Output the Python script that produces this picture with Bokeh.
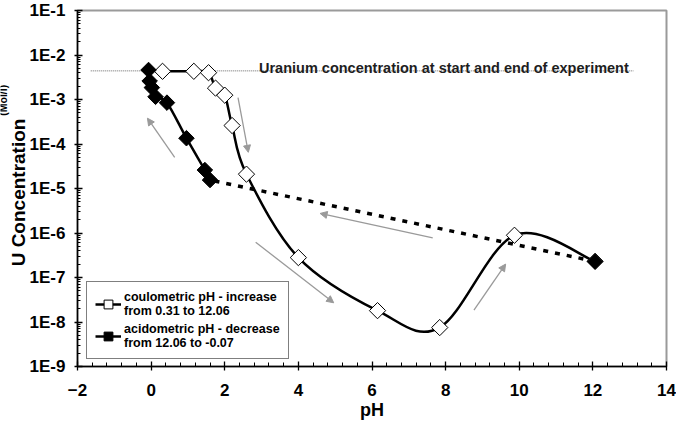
import numpy as np
from bokeh.plotting import figure
from bokeh.layouts import row
from bokeh.models import (FixedTicker, CustomJSTickFormatter, Label, Arrow, NormalHead,
                          Legend, LegendItem, Range1d, ColumnDataSource)
from bokeh.embed import file_html
from bokeh.resources import INLINE

# ---------------- data ----------------
coul_ph = [0.31, 1.16, 1.56, 1.75, 2.00, 2.20, 2.59, 4.00, 6.15, 7.84, 9.87, 12.06]
coul_u = [4.3e-3, 4.3e-3, 4.0e-3, 1.8e-3, 1.25e-3, 2.6e-4, 2.1e-5, 2.8e-7, 1.8e-8, 7.5e-9, 8.9e-7, 2.3e-7]

acid_ph = [12.06, 1.60, 1.46, 0.96, 0.43, 0.12, 0.02, -0.04, -0.07]
acid_u = [2.3e-7, 1.55e-5, 2.6e-5, 1.35e-4, 8.5e-4, 1.15e-3, 1.85e-3, 2.6e-3, 4.6e-3]

start_end_u = 4.4e-3
start_end_label = "Uranium concentration at start and end of experiment"

x_ticks = [-2, 0, 2, 4, 6, 8, 10, 12, 14]
y_ticks = [1e-9, 1e-8, 1e-7, 1e-6, 1e-5, 1e-4, 1e-3, 1e-2, 1e-1]

y_title = "U Concentration"
y_unit = "(Mol/l)"
legend_coul = "coulometric pH - increase\nfrom 0.31 to 12.06"
legend_acid = "acidometric pH - decrease\nfrom 12.06 to -0.07"

FONT = "Liberation Sans"
H = 423
TITLE_W = 26


def smooth_segments(xs, ys):
    """Bezier control points (Catmull-Rom style, as spreadsheet smoothed lines) in log space."""
    pts = np.column_stack([np.asarray(xs, float), np.log10(np.asarray(ys, float))])
    prev = np.vstack([pts[0], pts[:-1]])
    nxt = np.vstack([pts[1:], pts[-1]])
    tan = (nxt - prev) / 6.0
    p0, p1 = pts[:-1], pts[1:]
    c0, c1 = p0 + tan[:-1], p1 - tan[1:]
    return ColumnDataSource(dict(
        x0=p0[:, 0], y0=10 ** p0[:, 1], x1=p1[:, 0], y1=10 ** p1[:, 1],
        cx0=c0[:, 0], cy0=10 ** c0[:, 1], cx1=c1[:, 0], cy1=10 ** c1[:, 1]))


# ---------- narrow strip carrying the two-size y title ----------
tf = figure(width=TITLE_W, height=H, output_backend="svg", toolbar_location=None,
            x_range=Range1d(0, TITLE_W), y_range=Range1d(0, H),
            x_axis_location=None, y_axis_location=None,
            min_border_left=0, min_border_right=0, min_border_top=0, min_border_bottom=0,
            outline_line_color=None, background_fill_color="white",
            border_fill_color="white")
tf.grid.visible = False
# anchors: start of the text on its baseline (text reads upward)
tf.add_layout(Label(x=18, y=H - 304, text=y_title, angle=np.pi / 2,
                    text_align="left", text_baseline="alphabetic",
                    text_font=FONT, text_font_style="bold", text_font_size="19px",
                    text_color="black"))
tf.add_layout(Label(x=2.0, y=H - 125, text=y_unit, angle=np.pi / 2,
                    text_align="left", text_baseline="alphabetic",
                    text_font=FONT, text_font_style="bold", text_font_size="10.5px",
                    text_color="black"))

# ---------- main chart ----------
p = figure(width=676 - TITLE_W, height=H, output_backend="svg", toolbar_location=None,
           y_axis_type="log", x_range=Range1d(-2, 14), y_range=Range1d(1e-9, 1e-1),
           min_border_left=77 - TITLE_W, min_border_right=10, min_border_top=10,
           min_border_bottom=57, background_fill_color="white", border_fill_color="white")
p.grid.visible = False
p.outline_line_color = "#9a9a9a"
p.outline_line_width = 2

p.xaxis.ticker = FixedTicker(ticks=x_ticks,
                             minor_ticks=[round(-2 + 0.4 * i, 2) for i in range(41)])
minor_y = [k * 10.0 ** e for e in range(-9, -1) for k in range(2, 10)]
p.yaxis.ticker = FixedTicker(ticks=y_ticks, minor_ticks=minor_y)
p.yaxis.formatter = CustomJSTickFormatter(code="return '1E' + Math.round(Math.log10(tick));")
for ax in (p.xaxis[0], p.yaxis[0]):
    ax.axis_line_color = "black"
    ax.axis_line_width = 1.5
    ax.major_tick_line_color = "black"
    ax.major_tick_line_width = 1.3
    ax.minor_tick_line_color = "black"
    ax.minor_tick_line_width = 1
    ax.major_label_text_font = FONT
    ax.major_label_text_font_style = "bold"
    ax.major_label_text_font_size = "17px"
    ax.major_label_text_color = "black"
p.xaxis.major_tick_in = 5
p.xaxis.major_tick_out = 4
p.xaxis.minor_tick_in = 4
p.xaxis.minor_tick_out = 0
p.xaxis.major_label_standoff = 13
p.yaxis.major_tick_in = 5
p.yaxis.major_tick_out = 3
p.yaxis.minor_tick_in = 3
p.yaxis.minor_tick_out = 0
p.yaxis.major_label_standoff = 9

p.xaxis.axis_label = "pH"
p.xaxis.axis_label_text_font = FONT
p.xaxis.axis_label_text_font_style = "bold"
p.xaxis.axis_label_text_font_size = "18px"
p.xaxis.axis_label_text_color = "black"
p.xaxis.axis_label_standoff = 1

# reference line
p.line(x=[-1.64, 13.1], y=[start_end_u, start_end_u], line_color="#6a6a6a",
       line_width=1, line_dash="1 1")
p.add_layout(Label(x=2.93, y=start_end_u * 1.15, text=start_end_label,
                   text_align="left", text_baseline="alphabetic",
                   text_font=FONT, text_font_style="bold", text_font_size="14.5px",
                   text_color="#1e1e1e"))

# arrows (direction of the experiment)
arrow_specs = [
    (0.64, 5.0e-5, -0.10, 3.8e-4),
    (2.36, 1.1e-3, 2.64, 6.5e-5),
    (7.65, 7.8e-7, 4.59, 2.75e-6),
    (2.84, 6.2e-7, 4.96, 2.7e-8),
    (8.77, 1.86e-8, 9.63, 2.0e-7),
]
for xs, ys, xe, ye in arrow_specs:
    p.add_layout(Arrow(end=NormalHead(size=7, fill_color="#9a9a9a", line_color="#9a9a9a"),
                       x_start=xs, y_start=ys, x_end=xe, y_end=ye,
                       line_color="#9a9a9a", line_width=1.3))

# coulometric series (smoothed)
coul_line = p.bezier(x0="x0", y0="y0", x1="x1", y1="y1", cx0="cx0", cy0="cy0",
                     cx1="cx1", cy1="cy1", source=smooth_segments(coul_ph, coul_u),
                     line_color="black", line_width=2.5)
coul_pts = p.scatter(coul_ph, coul_u, marker="square", angle=np.pi / 4, size=11.5,
                     fill_color="white", line_color="black", line_width=1)

# acidometric series: dashed jump then smoothed line
acid_dash = p.line(x=acid_ph[:2], y=acid_u[:2], line_color="black", line_width=3.5,
                   line_dash="5 7")
acid_line = p.bezier(x0="x0", y0="y0", x1="x1", y1="y1", cx0="cx0", cy0="cy0",
                     cx1="cx1", cy1="cy1", source=smooth_segments(acid_ph[1:], acid_u[1:]),
                     line_color="black", line_width=2.5)
acid_pts = p.scatter(acid_ph, acid_u, marker="square", angle=np.pi / 4, size=11,
                     fill_color="black", line_color="black", line_width=1)

legend = Legend(items=[LegendItem(label=legend_coul, renderers=[coul_line, coul_pts]),
                       LegendItem(label=legend_acid, renderers=[acid_line, acid_pts])],
                location=(9, 7), label_text_font=FONT, label_text_font_style="bold",
                label_text_font_size="12.5px", label_text_color="black",
                label_text_line_height=1.0, glyph_width=26, glyph_height=22,
                label_standoff=3, padding=8, spacing=4, margin=0,
                border_line_color="black", border_line_width=1.3,
                background_fill_color="white", background_fill_alpha=1)
p.add_layout(legend)

layout = row(tf, p, spacing=0)
open("out.html", "w").write(file_html(layout, INLINE))
